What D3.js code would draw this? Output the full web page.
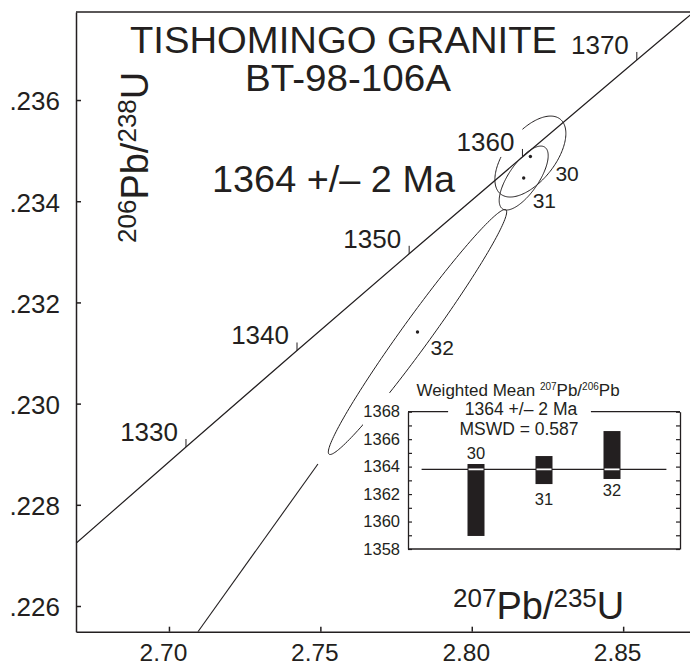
<!DOCTYPE html>
<html>
<head>
<meta charset="utf-8">
<script src="https://cdn.jsdelivr.net/npm/d3@7"></script>
<style>
  body { margin: 0; background: #fff; }
  svg { display: block; font-family: "Liberation Sans", Arial, sans-serif; }
</style>
</head>
<body>
<div id="chart"></div>
<script>
// chart size
const width = 690;
const height = 667;
const ink = "#231f20";

// concordia curve points (age in Ma, 207Pb/235U, 206Pb/238U)
const concAges = [1320, 1330, 1340, 1350, 1360, 1370, 1380];
const concX = [2.6693, 2.70562, 2.74229, 2.77933, 2.81674, 2.85451, 2.89266];
const concY = [0.227237, 0.229142, 0.23105, 0.232961, 0.234875, 0.236792, 0.238712];
const concLabelAges = [1330, 1340, 1350, 1360, 1370];

// analyses: ellipse centre, half widths and error correlation
const spotNames = ["30", "31", "32"];
const spotX = [2.81936, 2.81715, 2.78208];
const spotY = [0.234883, 0.234458, 0.231415];
const spotSx = [0.01172, 0.00809, 0.02945];
const spotSy = [0.0008, 0.000632, 0.002421];
const spotRho = [0.57, 0.7, 0.98];

// discordia segment toward the lower intercept
const discX = [2.70957, 2.7492];
const discY = [0.225492, 0.228806];

// axis ticks
const xTicks = [2.7, 2.75, 2.8, 2.85];
const yTicks = [0.226, 0.228, 0.23, 0.232, 0.234, 0.236];

// weighted mean inset (207Pb/206Pb ages in Ma)
const barNames = ["30", "31", "32"];
const barHigh = [1364.19, 1364.77, 1366.59];
const barLow = [1358.95, 1362.73, 1363.1];
const meanAge = 1363.8;
const insetTicks = [1358, 1359, 1360, 1361, 1362, 1363, 1364, 1365, 1366, 1367, 1368];

const svg = d3
  .select("#chart")
  .append("svg")
  .attr("width", width)
  .attr("height", height);

// main scales
const x = d3.scaleLinear().domain([2.6693, 2.88]).range([76, 714]);
const y = d3.scaleLinear().domain([0.225492, 0.23774]).range([631.7, 12]);

svg
  .append("clipPath")
  .attr("id", "plotClip")
  .append("rect")
  .attr("x", 76)
  .attr("y", 12)
  .attr("width", 638)
  .attr("height", 619.7);

// axes with inward ticks
svg
  .append("g")
  .attr("transform", "translate(0,631.7)")
  .call(
    d3.axisBottom(x).tickValues(xTicks).tickSizeInner(-5).tickSizeOuter(0).tickPadding(12)
      .tickFormat(d3.format(".2f"))
  )
  .call((g) => {
    g.select(".domain").attr("stroke", ink).attr("stroke-width", 1.5);
    g.selectAll(".tick line").attr("stroke", ink).attr("stroke-width", 1.5);
    g.selectAll("text").attr("fill", ink).attr("font-size", 24.5).attr("dx", -6);
  });

svg
  .append("g")
  .attr("transform", "translate(76,0)")
  .call(
    d3.axisLeft(y).tickValues(yTicks).tickSizeInner(-5).tickSizeOuter(0).tickPadding(16)
      .tickFormat((d) => d3.format(".3f")(d).replace(/^0/, ""))
  )
  .call((g) => {
    g.select(".domain").attr("stroke", ink).attr("stroke-width", 1.5);
    g.selectAll(".tick line").attr("stroke", ink).attr("stroke-width", 1.5);
    g.selectAll("text").attr("fill", ink).attr("font-size", 26).attr("dy", "0.38em");
  });

// top frame line
svg
  .append("line")
  .attr("x1", x.range()[0])
  .attr("x2", x.range()[1])
  .attr("y1", y.range()[1])
  .attr("y2", y.range()[1])
  .attr("stroke", ink)
  .attr("stroke-width", 1.5);

const plot = svg.append("g").attr("clip-path", "url(#plotClip)");

// error ellipses
const ellipseLine = d3.line().curve(d3.curveLinearClosed);
spotNames.forEach((name, i) => {
  const pts = d3.range(0, 360, 2).map((deg) => {
    const t = (deg * Math.PI) / 180;
    const ex = spotX[i] + spotSx[i] * Math.cos(t);
    const ey =
      spotY[i] +
      spotSy[i] * (spotRho[i] * Math.cos(t) + Math.sqrt(1 - spotRho[i] ** 2) * Math.sin(t));
    return [x(ex), y(ey)];
  });
  plot
    .append("path")
    .attr("d", ellipseLine(pts))
    .attr("fill", "none")
    .attr("stroke", ink)
    .attr("stroke-width", 1);
});

// discordia
plot
  .append("line")
  .attr("x1", x(discX[0]))
  .attr("y1", y(discY[0]))
  .attr("x2", x(discX[1]))
  .attr("y2", y(discY[1]))
  .attr("stroke", ink)
  .attr("stroke-width", 1.1);

// concordia age labels with white knock-out boxes
concLabelAges.forEach((age) => {
  const i = concAges.indexOf(age);
  const px = x(concX[i]);
  const py = y(concY[i]);
  const box = plot.append("rect").attr("fill", "#fff");
  const label = plot
    .append("text")
    .attr("x", px - 8)
    .attr("y", py - 6)
    .attr("text-anchor", "end")
    .attr("font-size", 26)
    .attr("fill", ink)
    .text(age);
  const bb = label.node().getBBox();
  box
    .attr("x", bb.x - 2)
    .attr("y", bb.y)
    .attr("width", px - bb.x + 2)
    .attr("height", py - bb.y);
});

// concordia curve and age ticks
plot
  .append("path")
  .attr("d", d3.line().curve(d3.curveCatmullRom)(concAges.map((a, i) => [x(concX[i]), y(concY[i])])))
  .attr("fill", "none")
  .attr("stroke", ink)
  .attr("stroke-width", 1.2);

concLabelAges.forEach((age) => {
  const i = concAges.indexOf(age);
  plot
    .append("line")
    .attr("x1", x(concX[i]))
    .attr("x2", x(concX[i]))
    .attr("y1", y(concY[i]))
    .attr("y2", y(concY[i]) - 8)
    .attr("stroke", ink)
    .attr("stroke-width", 1);
});

// spot centres and names
const spotLabelOffset = [[25, 24], [9, 30], [13, 23]];
spotNames.forEach((name, i) => {
  plot
    .append("circle")
    .attr("cx", x(spotX[i]))
    .attr("cy", y(spotY[i]))
    .attr("r", 1.7)
    .attr("fill", ink);
  plot
    .append("text")
    .attr("x", x(spotX[i]) + spotLabelOffset[i][0])
    .attr("y", y(spotY[i]) + spotLabelOffset[i][1])
    .attr("font-size", 21)
    .attr("fill", ink)
    .text(name);
});

// weighted mean inset
const inset = svg.append("g");
inset
  .append("rect")
  .attr("x", 363)
  .attr("y", 393)
  .attr("width", 340)
  .attr("height", 168)
  .attr("fill", "#fff");

const ix = d3.scaleLinear().domain([0, 4]).range([408, 680]);
const iy = d3.scaleLinear().domain([1358, 1368]).range([549, 411.7]);

inset
  .append("g")
  .attr("transform", `translate(${ix(0)},0)`)
  .call(
    d3.axisLeft(iy).tickValues(insetTicks).tickSizeInner(-4).tickSizeOuter(0).tickPadding(8)
      .tickFormat((d) => (d % 2 === 0 ? d : ""))
  )
  .call((g) => {
    g.select(".domain").attr("stroke", ink).attr("stroke-width", 1.3);
    g.selectAll(".tick line").attr("stroke", ink).attr("stroke-width", 1.2);
    g.selectAll("text").attr("fill", ink).attr("font-size", 16.5);
  });

inset
  .append("g")
  .attr("transform", `translate(${ix(4)},0)`)
  .call(d3.axisRight(iy).tickValues(insetTicks).tickSizeInner(-4).tickSizeOuter(0).tickFormat(""))
  .call((g) => {
    g.select(".domain").attr("stroke", ink).attr("stroke-width", 1.3);
    g.selectAll(".tick line").attr("stroke", ink).attr("stroke-width", 1.2);
  });

// bottom and broken top edge of the inset
inset
  .append("line")
  .attr("x1", ix(0))
  .attr("x2", ix(4))
  .attr("y1", iy(1358))
  .attr("y2", iy(1358))
  .attr("stroke", ink)
  .attr("stroke-width", 1.3);
[[0, 0.59], [2.69, 4]].forEach(([a, b]) => {
  inset
    .append("line")
    .attr("x1", ix(a))
    .attr("x2", ix(b))
    .attr("y1", iy(1368))
    .attr("y2", iy(1368))
    .attr("stroke", ink)
    .attr("stroke-width", 1.3);
});

// mean line, bars, white gap where the line crosses each bar
inset
  .append("line")
  .attr("x1", ix(0.2))
  .attr("x2", ix(3.8))
  .attr("y1", iy(meanAge))
  .attr("y2", iy(meanAge))
  .attr("stroke", ink)
  .attr("stroke-width", 1.2);

const barW = 17;
const barLabelDy = [-5, 21, 17];
barNames.forEach((name, i) => {
  const cx = ix(i + 1);
  inset
    .append("rect")
    .attr("x", cx - barW / 2)
    .attr("y", iy(barHigh[i]))
    .attr("width", barW)
    .attr("height", iy(barLow[i]) - iy(barHigh[i]))
    .attr("fill", ink);
  inset
    .append("line")
    .attr("x1", cx - barW / 2 + 1)
    .attr("x2", cx + barW / 2 - 1)
    .attr("y1", iy(meanAge))
    .attr("y2", iy(meanAge))
    .attr("stroke", "#fff")
    .attr("stroke-width", 1.8);
  inset
    .append("text")
    .attr("x", cx)
    .attr("y", i === 0 ? iy(barHigh[i]) + barLabelDy[i] : iy(barLow[i]) + barLabelDy[i])
    .attr("text-anchor", "middle")
    .attr("font-size", 16.5)
    .attr("fill", ink)
    .text(name);
});

// inset titles
const insetTitle = inset
  .append("text")
  .attr("x", 518)
  .attr("y", 396)
  .attr("text-anchor", "middle")
  .attr("font-size", 17)
  .attr("fill", ink);
insetTitle.append("tspan").text("Weighted Mean ");
insetTitle.append("tspan").attr("font-size", 10).attr("dy", -6).text("207");
insetTitle.append("tspan").attr("dy", 6).text("Pb/");
insetTitle.append("tspan").attr("font-size", 10).attr("dy", -6).text("206");
insetTitle.append("tspan").attr("dy", 6).text("Pb");

inset
  .append("text")
  .attr("x", 521)
  .attr("y", 415)
  .attr("text-anchor", "middle")
  .attr("font-size", 17.5)
  .attr("fill", ink)
  .text("1364 +/\u2013 2 Ma");
inset
  .append("text")
  .attr("x", 519)
  .attr("y", 435)
  .attr("text-anchor", "middle")
  .attr("font-size", 17.5)
  .attr("fill", ink)
  .text("MSWD = 0.587");

// big titles
svg
  .append("text")
  .attr("x", 130)
  .attr("y", 53)
  .attr("font-size", 37)
  .attr("textLength", 427)
  .attr("lengthAdjust", "spacingAndGlyphs")
  .attr("fill", ink)
  .text("TISHOMINGO GRANITE");
svg
  .append("text")
  .attr("x", 245)
  .attr("y", 91)
  .attr("font-size", 37)
  .attr("textLength", 206)
  .attr("lengthAdjust", "spacingAndGlyphs")
  .attr("fill", ink)
  .text("BT-98-106A");
svg
  .append("text")
  .attr("x", 212)
  .attr("y", 192)
  .attr("font-size", 36)
  .attr("textLength", 243)
  .attr("lengthAdjust", "spacingAndGlyphs")
  .attr("fill", ink)
  .text("1364 +/\u2013 2 Ma");

// axis titles with superscript mass numbers
function isotopeLabel(sel, top, bottom) {
  sel.append("tspan").attr("font-size", 26).attr("dy", -11.7).text(top[0]);
  sel.append("tspan").attr("dy", 11.7).text("Pb/");
  sel.append("tspan").attr("font-size", 26).attr("dy", -11.7).text(bottom[0]);
  sel.append("tspan").attr("dy", 11.7).text(bottom[1]);
}

const xTitle = svg
  .append("text")
  .attr("x", 453)
  .attr("y", 619)
  .attr("font-size", 38)
  .attr("fill", ink);
isotopeLabel(xTitle, ["207"], ["235", "U"]);

const yTitle = svg
  .append("text")
  .attr("transform", "translate(148,243) rotate(-90)")
  .attr("font-size", 38)
  .attr("fill", ink);
isotopeLabel(yTitle, ["206"], ["238", "U"]);
</script>
</body>
</html>
